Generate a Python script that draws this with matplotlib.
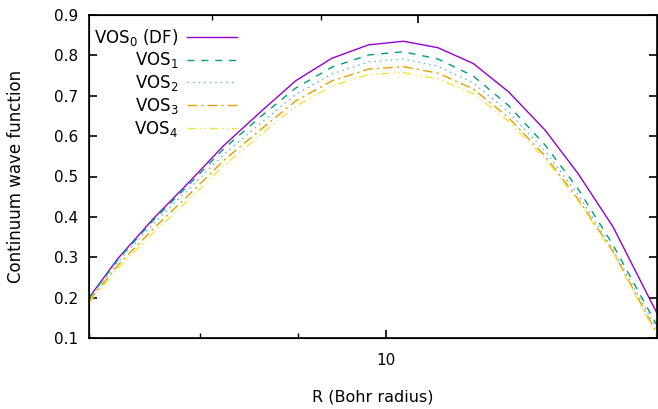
import matplotlib
matplotlib.use("Agg")
import matplotlib.pyplot as plt
from matplotlib.ticker import FixedLocator, NullFormatter

# R values (Bohr radius)
R = [7.00, 7.25, 7.56, 7.90, 8.23, 8.60, 8.97, 9.37, 9.79, 10.21,
     10.64, 11.10, 11.58, 12.10, 12.59, 13.13, 13.84]

VOS0 = [0.200, 0.298, 0.395, 0.488, 0.577, 0.660, 0.737, 0.793, 0.826, 0.835,
        0.819, 0.780, 0.710, 0.615, 0.507, 0.375, 0.161]
VOS1 = [0.198, 0.295, 0.391, 0.482, 0.569, 0.648, 0.719, 0.771, 0.801, 0.809,
        0.791, 0.749, 0.676, 0.578, 0.469, 0.330, 0.131]
VOS2 = [0.196, 0.290, 0.383, 0.471, 0.555, 0.632, 0.703, 0.754, 0.784, 0.791,
        0.773, 0.732, 0.660, 0.563, 0.455, 0.318, 0.121]
VOS3 = [0.192, 0.281, 0.370, 0.457, 0.540, 0.616, 0.687, 0.737, 0.766, 0.772,
        0.756, 0.717, 0.646, 0.551, 0.444, 0.314, 0.111]
VOS4 = [0.188, 0.273, 0.360, 0.445, 0.527, 0.603, 0.674, 0.724, 0.753, 0.757,
        0.742, 0.705, 0.637, 0.544, 0.439, 0.310, 0.105]

LABELS = ["VOS$_0$ (DF)", "VOS$_1$", "VOS$_2$", "VOS$_3$", "VOS$_4$"]
COLORS = ["#9400D3", "#009E73", "#56B4E9", "#E69F00", "#F0E442"]
DASHES = [None, (5, 5), (1, 3), (7, 3, 1.5, 3), (6, 3, 1, 2.5, 1, 2.5)]

Y_TICKS = [0.1, 0.2, 0.3, 0.4, 0.5, 0.6, 0.7, 0.8, 0.9]

plt.rcParams["font.family"] = ["DejaVu Sans"]
plt.rcParams["font.size"] = 11

fig = plt.figure(figsize=(6.58, 4.09), dpi=100)
ax = fig.add_axes([89 / 658, 1 - 338 / 409, 568 / 658, 323 / 409])

for y, lab, c, d in zip([VOS0, VOS1, VOS2, VOS3, VOS4], LABELS, COLORS, DASHES):
    line, = ax.plot(R, y, color=c, lw=1.0, label=lab)
    if d is not None:
        line.set_dashes(d)

ax.set_xscale("log")
ax.set_xlim(7.0, 13.84)
ax.set_ylim(0.1, 0.9)
ax.xaxis.set_major_locator(FixedLocator([10]))
ax.xaxis.set_major_formatter(plt.FixedFormatter(["10"]))
ax.xaxis.set_minor_locator(FixedLocator([7, 8, 9]))
ax.xaxis.set_minor_formatter(NullFormatter())
ax.set_yticks(Y_TICKS)
ax.set_yticklabels([f"{v:.1f}" for v in Y_TICKS])

ax.tick_params(which="major", direction="in", length=6, width=1.2, right=True, top=False)
ax.tick_params(which="minor", direction="in", length=3.5, width=1.0, top=False)
ax.tick_params(axis="y", pad=8)
ax.tick_params(axis="x", which="both", pad=11)
for s in ax.spines.values():
    s.set_linewidth(1.2)

# mirrored top axis (gnuplot x2 autoscaled slightly differently)
ax2 = ax.twiny()
ax2.set_xscale("log")
ax2.set_xlim(7.0, 12.95)
ax2.xaxis.set_major_locator(FixedLocator([10]))
ax2.xaxis.set_minor_locator(FixedLocator([8, 9]))
ax2.xaxis.set_major_formatter(NullFormatter())
ax2.xaxis.set_minor_formatter(NullFormatter())
ax2.tick_params(which="major", direction="in", length=6, width=1.2)
ax2.tick_params(which="minor", direction="in", length=3.5, width=1.0)

ax.set_xlabel("R (Bohr radius)", fontsize=11.5)
ax.set_ylabel("Continuum wave function", fontsize=12)
ax.xaxis.set_label_coords(0.5, -0.158)
ax.yaxis.set_label_coords(-0.112, 0.5)

leg = ax.legend(loc="upper left", bbox_to_anchor=(-0.006, 0.99), frameon=False,
                markerfirst=False, handlelength=3.0, handletextpad=0.55,
                labelspacing=0.17, borderpad=0.0, fontsize=12)

fig.savefig("out.png", dpi=100)
